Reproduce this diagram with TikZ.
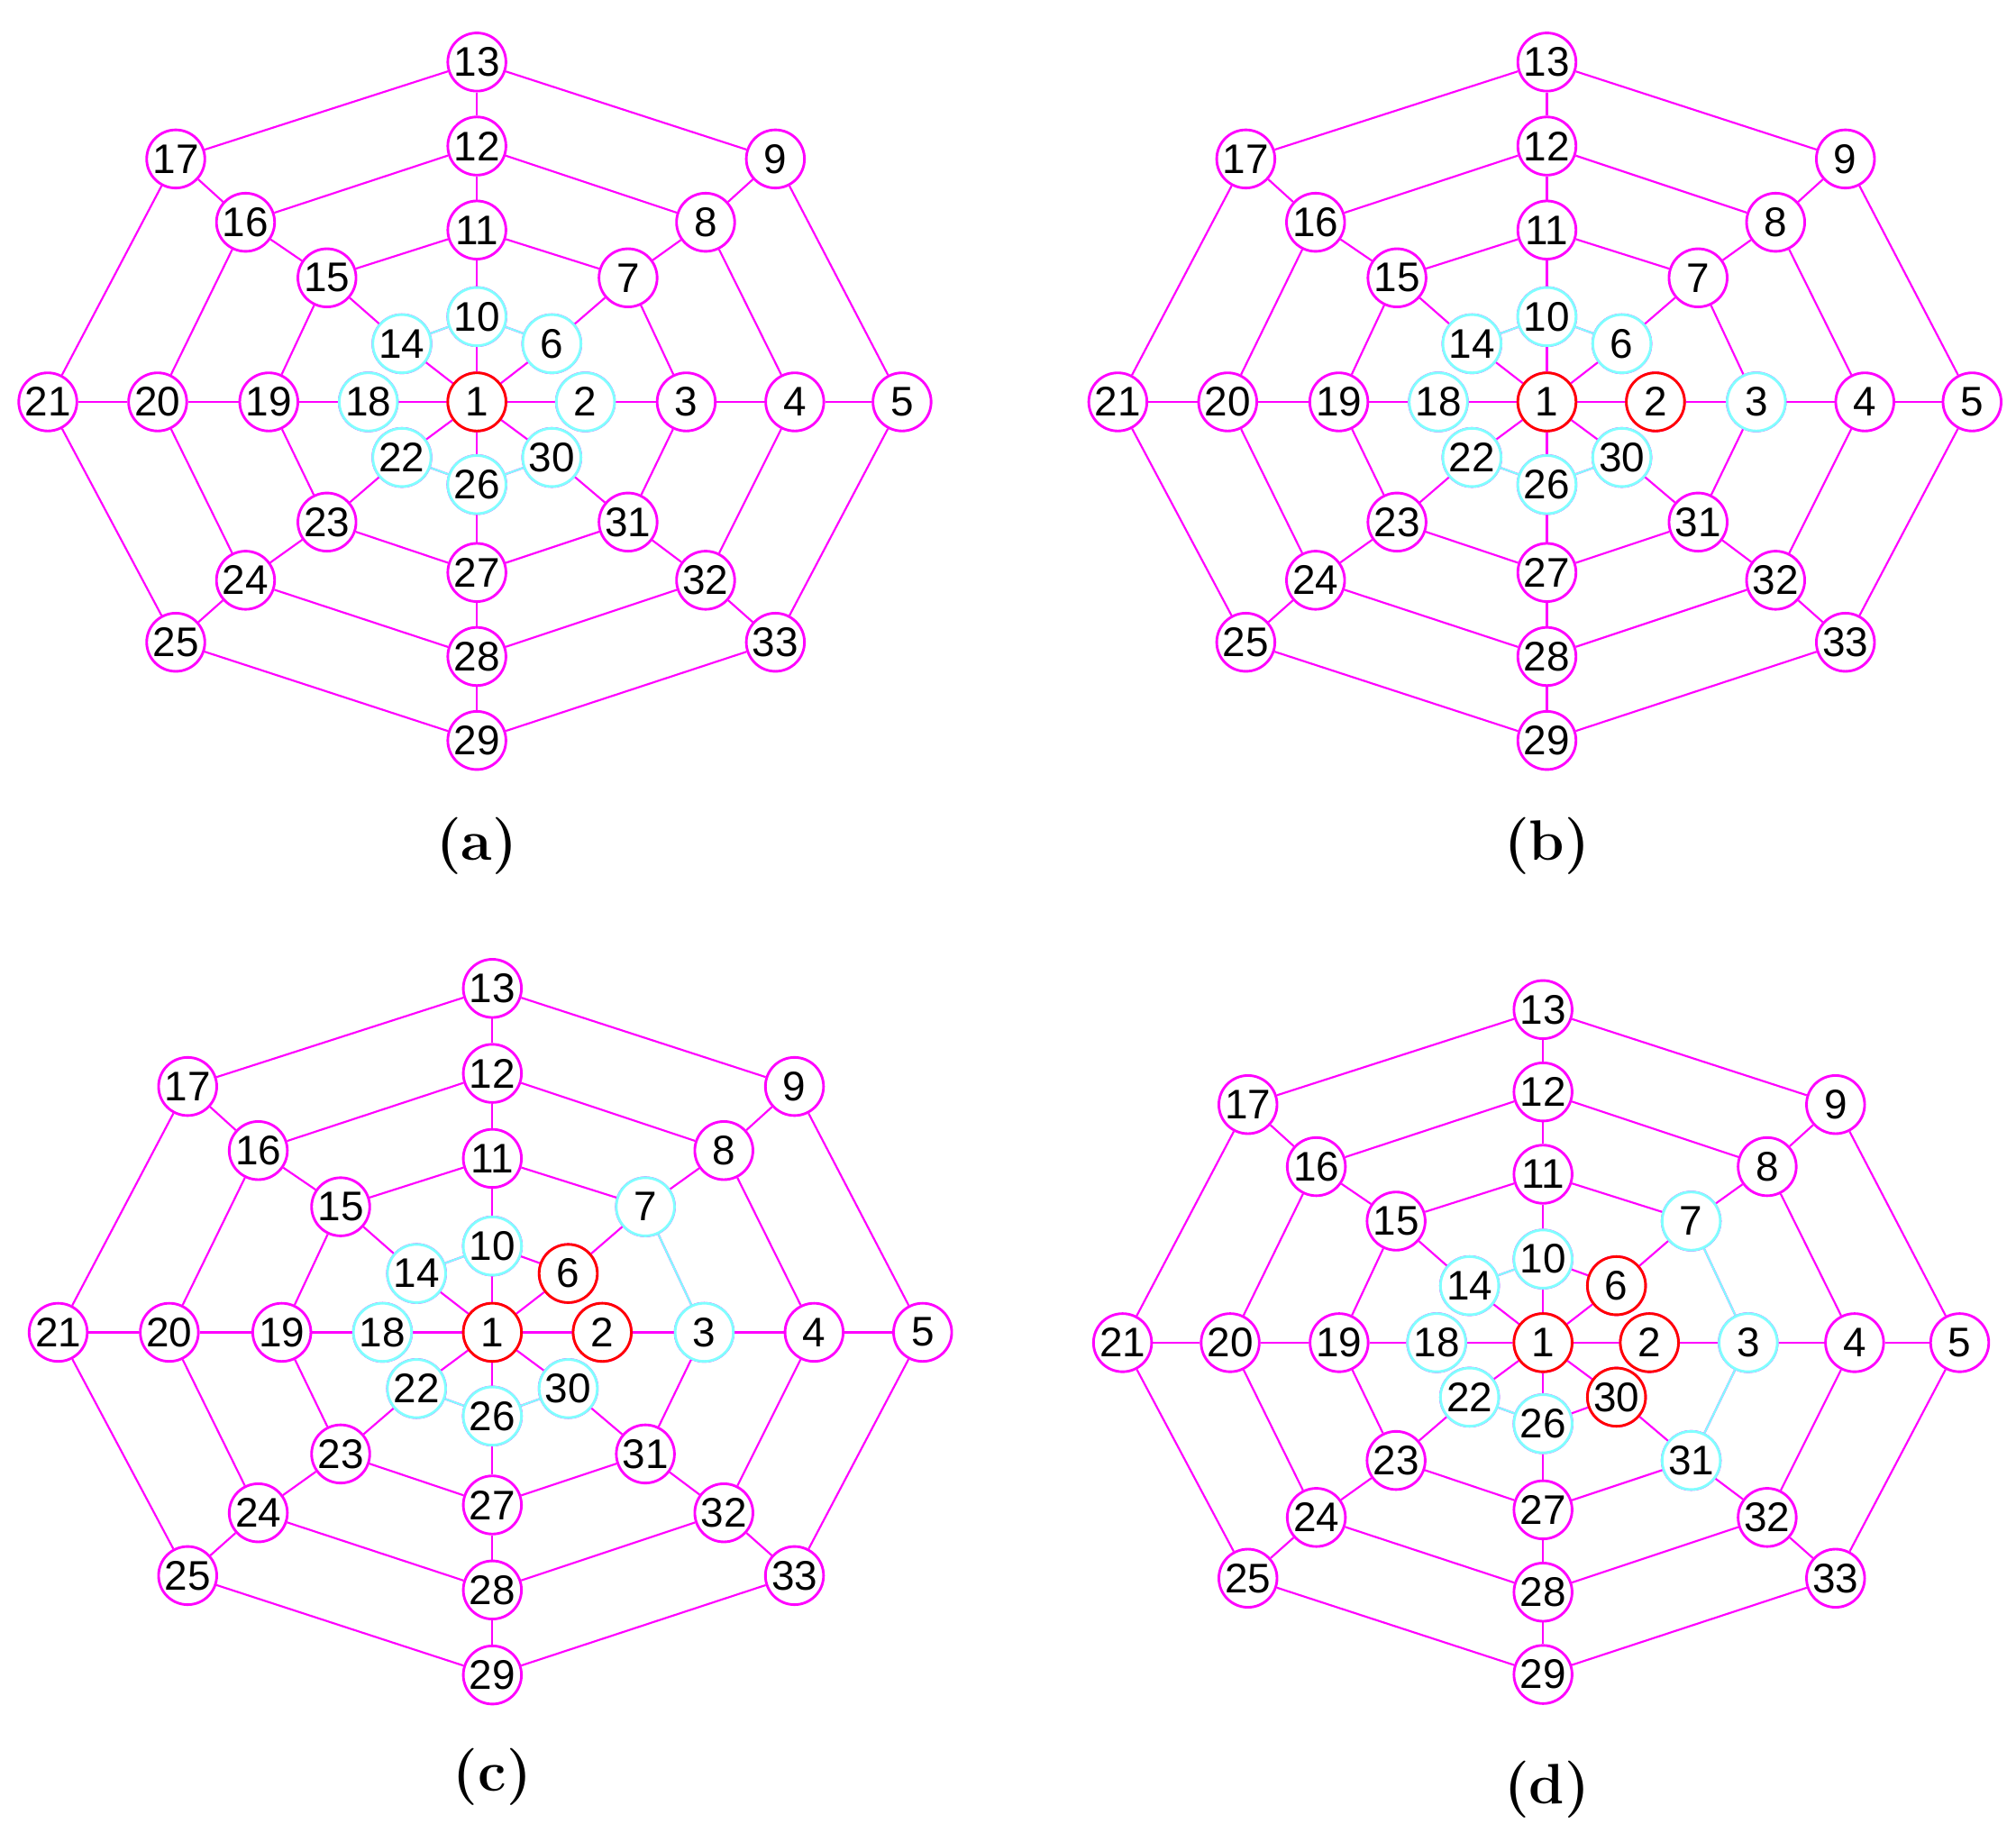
\documentclass[tikz,border=0pt]{standalone}
\usepackage{fontspec}
\setsansfont{Liberation Sans}
\definecolor{mg}{RGB}{255,0,255}
\definecolor{cy}{RGB}{128,255,255}
\definecolor{rd}{RGB}{255,0,0}
\tikzset{
 nd/.style={circle,draw,line width=1pt,fill=white,minimum size=22.5pt,inner sep=0pt,font=\sffamily\fontsize{16}{16}\selectfont},
 magn/.style={nd,draw=mg}, cyn/.style={nd,draw=cy}, redn/.style={nd,draw=rd},
 emag/.style={draw=mg,line width=0.75pt}, ecy/.style={draw=cy,line width=0.75pt},
 lab/.style={font=\bfseries\fontsize{22}{22}\selectfont}
}
\def\nodelist{1/0/0,2/84/0,3/162/0,4/246/0,5/329/0,18/-84/0,19/-161/0,20/-247/0,21/-332/0,
10/0/-66,11/0/-133,12/0/-198,13/0/-263,26/0/64,27/0/132,28/0/197,29/0/262,
6/58/-45,7/117/-96,8/177/-139,9/231/-188,14/-58/-45,15/-116/-96,16/-179/-139,17/-233/-188,
22/-58/43,23/-116/93,24/-179/138,25/-233/186,30/58/43,31/117/93,32/177/138,33/231/186}
\def\edgelist{1/2,2/3,3/4,4/5,1/18,18/19,19/20,20/21,1/10,10/11,11/12,12/13,1/26,26/27,27/28,28/29,
1/6,6/7,7/8,8/9,1/14,14/15,15/16,16/17,1/22,22/23,23/24,24/25,1/30,30/31,31/32,32/33,
6/10,10/14,22/26,26/30,3/7,7/11,11/15,15/19,19/23,23/27,27/31,31/3,
4/8,8/12,12/16,16/20,20/24,24/28,28/32,32/4,5/9,9/13,13/17,17/21,21/25,25/29,29/33,33/5}
\newcommand\gpanel[6]{%
\begin{scope}[shift={#2},scale=#3]
\foreach \i/\x/\y in \nodelist {\node[magn] (#1\i) at (\x,\y) {\i};}
\foreach \a/\b in \edgelist {\draw[emag] (#1\a) -- (#1\b);}
\foreach \a/\b in {#6} {\draw[ecy] (#1\a) -- (#1\b);}
\foreach \i/\x/\y in \nodelist {%
 \foreach \c in {#4} {\ifnum\c=\i\relax \node[cyn] at (\x,\y) {\i};\fi}%
 \foreach \c in {#5} {\ifnum\c=\i\relax \node[redn] at (\x,\y) {\i};\fi}}
\end{scope}}
\begin{document}
\begin{tikzpicture}[x=0.5pt,y=-0.5pt]
\useasboundingbox (0,0) rectangle (1560,1418);
\gpanel{a}{(369,311)}{1}{2,6,10,14,18,22,26,30}{1}{6/10,10/14,22/26,26/30}
\gpanel{b}{(1197,311)}{1}{3,6,10,14,18,22,26,30}{1,2}{6/10,10/14,22/26,26/30}
\gpanel{c}{(381,1031)}{1.012}{3,7,10,14,18,22,26,30}{1,2,6}{10/14,22/26,26/30,7/3}
\gpanel{d}{(1194,1039)}{0.98}{3,7,31,10,14,18,22,26}{1,2,6,30}{10/14,22/26,7/3,3/31}
\node[lab] (la) at (369,655) {(a)};
\node[lab] (lb) at (1197,655) {(b)};
\node[lab] (lc) at (381,1375) {(c)};
\node[lab] (ld) at (1197,1385) {(d)};
\end{tikzpicture}
\end{document}
